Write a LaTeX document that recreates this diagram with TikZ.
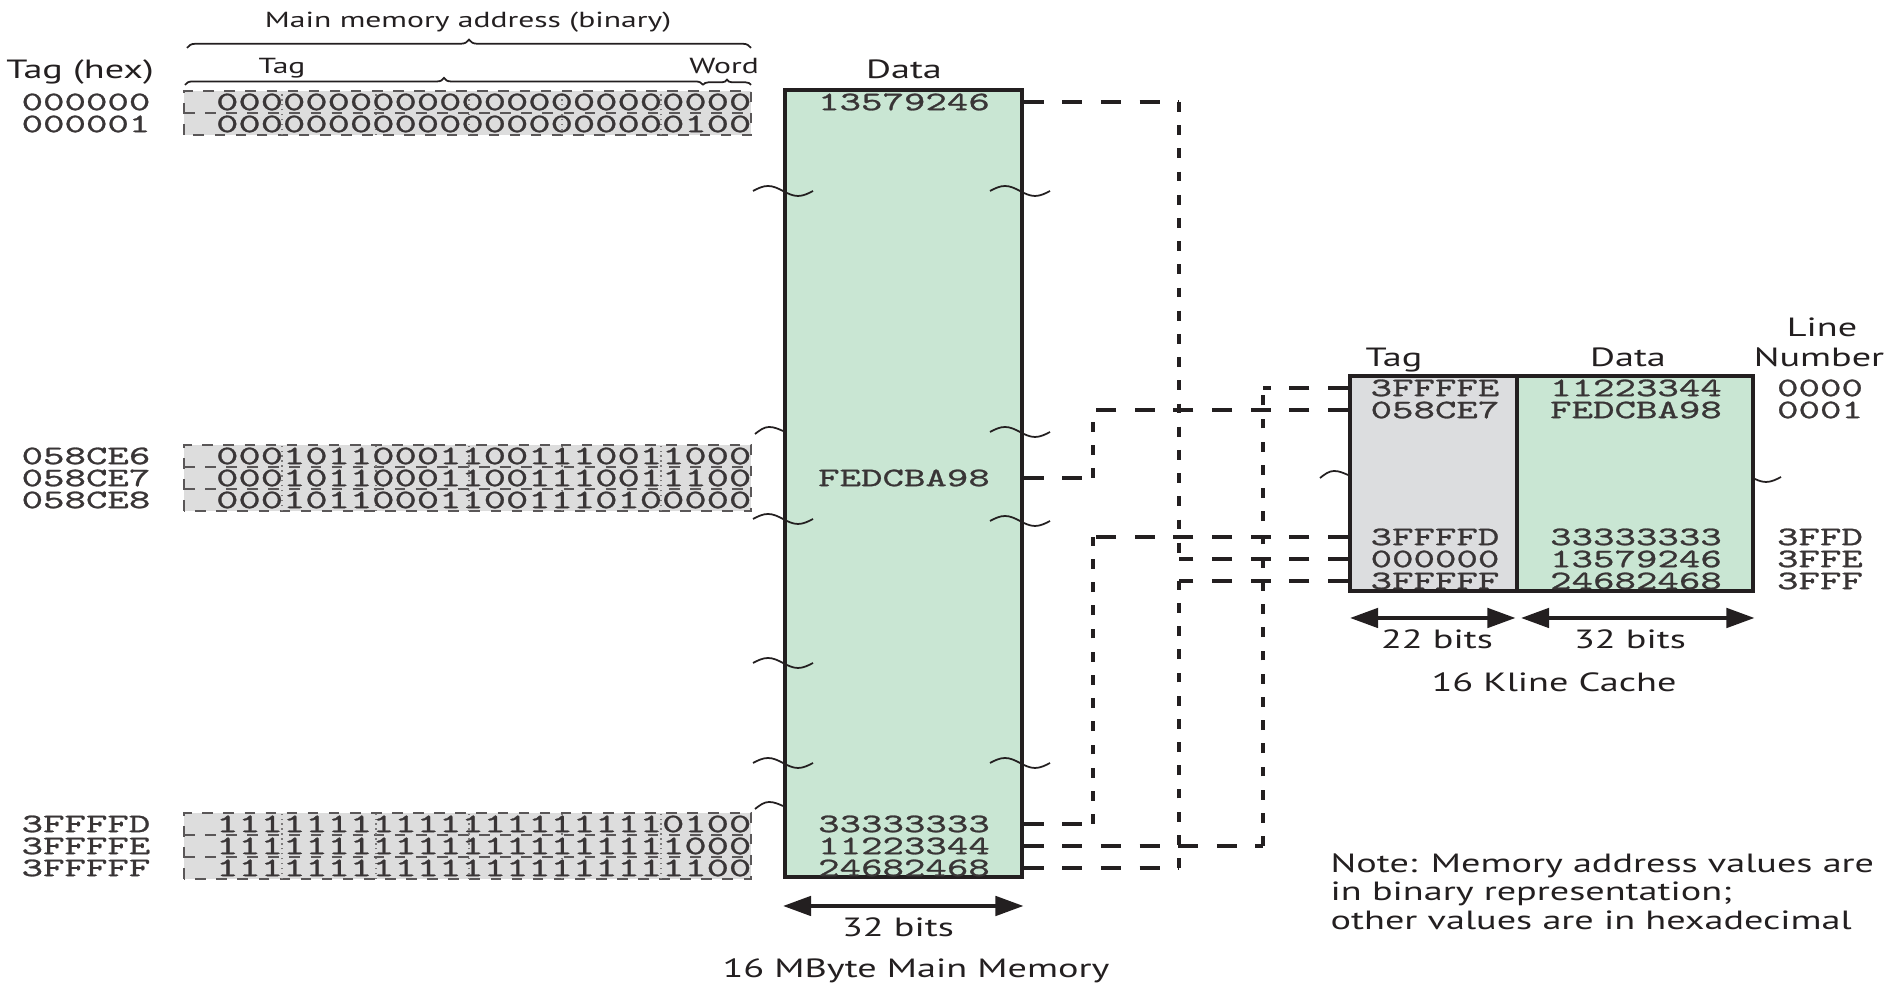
\documentclass[tikz,border=0pt]{standalone}
\usepackage{fontspec}
\setmainfont{PT Sans}[FakeStretch=1.45]
\setmonofont{lmmono10-regular.otf}[FakeStretch=1.53, FakeBold=1]
\newfontfamily\binfont{lmmono10-regular.otf}[FakeStretch=1.59, FakeBold=1]
\usetikzlibrary{
  positioning,
  arrows.meta,
  decorations.pathreplacing,
  calc
}
\definecolor{ink}{HTML}{231F20}
\definecolor{memfill}{HTML}{C9E6D3}
\definecolor{tagfill}{HTML}{DCDDDF}
\definecolor{addrfill}{HTML}{DDDDDD}

\begin{document}
\begin{tikzpicture}[
  lbl/.style={font=\fontsize{7.5}{8.5}\selectfont, text=ink, inner sep=0pt,
              text height=0.19cm, text depth=0.05cm},
  sublbl/.style={font=\fontsize{6.2}{7}\selectfont, text=ink, inner sep=0pt,
              text height=0.15cm, text depth=0.04cm},
  val/.style={font=\ttfamily\fontsize{7.6}{8}\selectfont, text=ink!90, inner sep=0pt},
  bin/.style={font=\binfont\fontsize{7.6}{8}\selectfont, text=ink!90, inner sep=0pt, anchor=east},
  membox/.style={draw=ink, line width=1pt, fill=memfill, inner sep=0pt},
  tagbox/.style={draw=ink, line width=1pt, fill=tagfill, inner sep=0pt},
  addrbox/.style={draw=ink!75, dashed, line width=0.4pt, fill=addrfill},
  rowline/.style={draw=ink!75, dashed, line width=0.4pt},
  sep/.style={draw=ink!60, densely dotted, line width=0.4pt},
  hlink/.style={draw=ink, line width=1.1pt, dash pattern=on 5.7pt off 5.3pt},
  vlink/.style={draw=ink, line width=1.1pt, dash pattern=on 2.8pt off 3.8pt},
  brk/.style={draw=ink, line width=0.5pt},
  sizearrow/.style={draw=ink, line width=1.1pt,
              {Triangle[length=8pt,width=5.5pt]}-{Triangle[length=8pt,width=5.5pt]}},
  curly/.style={draw=ink, line width=0.5pt, decorate, decoration={brace, amplitude=#1}}
]
  \useasboundingbox (0,0) rectangle (18.93,9.88);

  % address header
  \node[sublbl] (addrhead) at (4.68,9.66) {Main memory address (binary)};
  \draw[curly=2.4pt] (1.87,9.40) -- (7.51,9.40);
  \node[lbl] (taghex) at (0.80,9.16) {Tag (hex)};
  \node[sublbl] (tagfield) at (2.82,9.20) {Tag};
  \node[sublbl] (wordfield) at (7.24,9.20) {Word};
  \draw[curly=2pt] (1.85,9.03) -- (7.03,9.03);
  \draw[curly=1.5pt] (7.03,9.03) -- (7.51,9.03);

  % address groups
  \draw[addrbox] (1.84,8.53) rectangle (7.51,8.97);
  \draw[addrbox] (1.84,4.77) rectangle (7.51,5.43);
  \draw[addrbox] (1.84,1.09) rectangle (7.51,1.75);
  \foreach \y in {8.75,5.21,4.99,1.53,1.31}
    \draw[rowline] (1.84,\y) -- (7.51,\y);
  \foreach \x in {2.82,3.76,4.69,5.62,6.61} {
    \draw[sep] (\x,8.53) -- (\x,8.97);
    \draw[sep] (\x,4.77) -- (\x,5.43);
    \draw[sep] (\x,1.09) -- (\x,1.75);
  }
  \foreach \y/\hexv/\bits [count=\i] in {
    8.86/000000/000000000000000000000000,
    8.64/000001/000000000000000000000100,
    5.32/058CE6/000101100011001110011000,
    5.10/058CE7/000101100011001110011100,
    4.88/058CE8/000101100011001110100000,
    1.64/3FFFFD/111111111111111111110100,
    1.42/3FFFFE/111111111111111111111000,
    1.20/3FFFFF/111111111111111111111100} {
    \node[val] (h\i) at (0.86,\y) {\hexv};
    \node[bin] (b\i) at (7.52,\y) {\bits};
  }

  % main memory
  \node[membox, minimum width=2.37cm, minimum height=7.87cm, anchor=south west] (mem) at (7.83,1.09) {};
  \node[lbl] (memhead) at (9.04,9.16) {Data};
  \node[val] (m1) at (9.04,8.86) {13579246};
  \node[val] (m2) at (9.04,5.10) {FEDCBA98};
  \node[val] (m3) at (9.04,1.64) {33333333};
  \node[val] (m4) at (9.04,1.42) {11223344};
  \node[val] (m5) at (9.04,1.20) {24682468};
  \draw[sizearrow] ($(mem.south west)+(0,-0.27)$) -- ($(mem.south east)+(0,-0.27)$);
  \node[lbl] (membits) at (8.98,0.58) {32 bits};
  \node[lbl] (memname) at (9.16,0.17) {16 MByte Main Memory};

  % break marks
  \foreach \x/\y in {7.83/7.97, 7.83/4.69, 7.83/3.25, 7.83/2.25,
                     10.20/7.97, 10.20/5.56, 10.20/4.67, 10.20/2.25, 17.51/5.11}
    \draw[brk] (\x-0.3,\y) sin (\x-0.15,\y+0.05) cos (\x,\y) sin (\x+0.15,\y-0.05) cos (\x+0.3,\y);
  \foreach \x/\y in {7.83/5.57, 7.83/1.82, 13.48/5.13}
    \draw[brk] (\x-0.28,\y-0.03) sin (\x-0.14,\y+0.04) cos (\x,\y);

  % cache
  \node[tagbox, minimum width=1.67cm, minimum height=2.15cm, anchor=south west] (ctag) at (13.48,3.95) {};
  \node[membox, minimum width=2.36cm, minimum height=2.15cm, anchor=south west] (cdata) at (15.15,3.95) {};
  \node[lbl] (taghead) at (13.94,6.28) {Tag};
  \node[lbl] (datahead) at (16.28,6.28) {Data};
  \node[lbl] (linehead) at (18.22,6.58) {Line};
  \node[lbl] (numhead) at (18.19,6.28) {Number};
  \foreach \y/\tagv/\datv/\linev [count=\i] in {
    6.00/3FFFFE/11223344/0000,
    5.78/058CE7/FEDCBA98/0001,
    4.51/3FFFFD/33333333/3FFD,
    4.29/000000/13579246/3FFE,
    4.07/3FFFFF/24682468/3FFF} {
    \node[val] (c\i) at (14.35,\y) {\tagv};
    \node[val] (d\i) at (16.36,\y) {\datv};
    \node[val] (n\i) at (18.20,\y) {\linev};
  }
  \draw[sizearrow] ($(ctag.south west)+(0.02,-0.25)$) -- ($(ctag.south east)+(-0.03,-0.25)$);
  \draw[sizearrow] ($(cdata.south west)+(0.06,-0.25)$) -- ($(cdata.south east)+(0,-0.25)$);
  \node[lbl] (tagbits) at (14.37,3.46) {22 bits};
  \node[lbl] (databits) at (16.30,3.46) {32 bits};
  \node[lbl] (cachename) at (15.54,3.03) {16 Kline Cache};

  % note
  \node[font=\fontsize{7.5}{8.1}\selectfont, text=ink, inner sep=0pt, align=left, anchor=west] (note)
    at (13.30,0.965) {Note: Memory address values are\\in binary representation;\\other values are in hexadecimal};

  % mapping lines
  \foreach \m/\c/\x in {m1/c4/11.79, m2/c2/10.93, m3/c3/10.93, m4/c1/12.63, m5/c5/11.79} {
    \draw[hlink] (mem.east |- \m) -- (\x,0 |- \m);
    \draw[vlink] (\x,0 |- \m) -- (\x,0 |- \c);
    \draw[hlink] (ctag.west |- \c) -- (\x,0 |- \c);
  }
\end{tikzpicture}
\end{document}
